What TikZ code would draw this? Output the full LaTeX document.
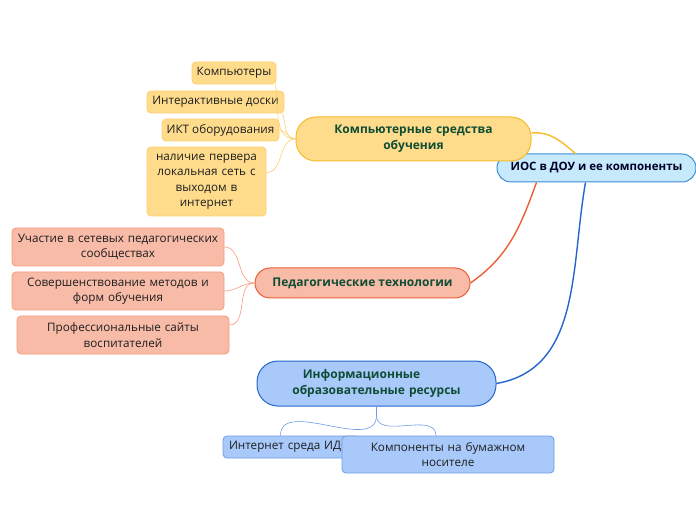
\documentclass[tikz,border=0pt]{standalone}
\usepackage{fontspec}
\setmainfont{Open Sans}
\usepackage{tikz}

\definecolor{inktext}{HTML}{0E4D34}
\definecolor{leaftext}{HTML}{1E1E1E}
\definecolor{rootfill}{HTML}{C6E9FB}
\definecolor{rootdraw}{HTML}{3B8ED3}
\definecolor{compfill}{HTML}{FEDC8C}
\definecolor{compdraw}{HTML}{F6BC2A}
\definecolor{compleaf}{HTML}{FCD06F}
\definecolor{pedfill}{HTML}{F8BBA8}
\definecolor{peddraw}{HTML}{EC5F34}
\definecolor{pedleaf}{HTML}{F59C7C}
\definecolor{infofill}{HTML}{A8C9F9}
\definecolor{infodraw}{HTML}{2566CC}
\definecolor{infoleaf}{HTML}{6E9CE6}

\begin{document}
\begin{tikzpicture}
      [x=1pt,y=1pt,font=\fontsize{11.7}{15.5}\selectfont,
       main node/.style={draw,line width=1pt,align=center,inner sep=0pt,text=inktext,font=\fontsize{12}{16}\selectfont\bfseries},
       leaf node/.style={draw,line width=0.8pt,rounded corners=4pt,align=center,inner sep=0pt,text=leaftext},
       comp leaf/.style={leaf node,fill=compfill,draw=compleaf},
       ped leaf/.style={leaf node,fill=pedfill,draw=pedleaf},
       info leaf/.style={leaf node,fill=infofill,draw=infoleaf}]
        \useasboundingbox (0,0) rectangle (696,520);

        % main topics
        \node[main node,fill=rootfill,draw=rootdraw,rounded corners=14pt,minimum width=199pt,minimum height=28pt,text=black!85!blue,font=\fontsize{11.5}{15}\selectfont\bfseries] (root) at (596.5,352) {ИОС в ДОУ и ее компоненты};
        \node[main node,fill=compfill,draw=compdraw,rounded corners=20pt,minimum width=235pt,minimum height=44pt,text width=220pt] (comp) at (413.5,381) {Компьютерные средства\\обучения};
        \node[main node,fill=pedfill,draw=peddraw,rounded corners=15pt,minimum width=215pt,minimum height=30pt] (ped) at (362.5,237) {Педагогические технологии};
        \node[main node,fill=infofill,draw=infodraw,rounded corners=21pt,minimum width=239pt,minimum height=45pt,text width=225pt] (info) at (376.5,136.5) {Информационные\rule{30pt}{0pt}\\образовательные ресурсы};

        % leaves
        \node[comp leaf,minimum width=84pt,minimum height=22pt] (pc) at (234,447) {Компьютеры};
        \node[comp leaf,minimum width=137pt,minimum height=22pt] (board) at (215.5,418) {Интерактивные доски};
        \node[comp leaf,minimum width=117pt,minimum height=22pt] (ikt) at (220.5,390) {ИКТ оборудования};
        \node[comp leaf,minimum width=119pt,minimum height=69pt,text width=110pt] (server) at (206.5,338.5) {наличие первера\\локальная сеть с\\выходом в\\интернет};

        \node[ped leaf,minimum width=212pt,minimum height=38pt,text width=205pt] (net) at (118,273) {Участие в сетевых педагогических\\сообществах};
        \node[ped leaf,minimum width=212pt,minimum height=38pt,text width=205pt] (method) at (118,229) {Совершенствование методов и\\форм обучения};
        \node[ped leaf,minimum width=212pt,minimum height=38pt,text width=205pt] (sites) at (123,185) {Профессиональные сайты\\воспитателей};

        \node[info leaf,minimum width=137pt,minimum height=22pt,text width=125pt,align=left] (inet) at (291.5,73) {\mbox{Интернет среда ИДОУ}};
        \node[info leaf,minimum width=212pt,minimum height=37pt,text width=205pt] (paper) at (448,65.5) {Компоненты на бумажном\\носителе};

        % connectors
        \draw[compdraw,line width=1.4pt] ([yshift=6pt]comp.east) to[out=5,in=140] ([xshift=-21pt]root.north);
        \draw[peddraw,line width=1.4pt] ([xshift=-60pt]root.south) to[out=-110,in=35] (ped.east);
        \draw[infodraw,line width=1.4pt] ([xshift=-11pt]root.south) to[out=-100,in=10] (info.east);

        \draw[compleaf,line width=0.6pt] ([xshift=-1pt]pc.south east) to[out=-80,in=180] (comp.west);
        \draw[compleaf,line width=0.6pt] ([xshift=-2pt]board.south east) to[out=-70,in=180] (comp.west);
        \draw[compleaf,line width=0.6pt] (ikt.east) to[out=0,in=180] (comp.west);
        \draw[compleaf,line width=0.6pt] ([yshift=9pt]server.east) to[out=0,in=180] (comp.west);

        \draw[pedleaf,line width=0.6pt] (net.east) to[out=0,in=180] (ped.west);
        \draw[pedleaf,line width=0.6pt] (method.east) to[out=0,in=180] (ped.west);
        \draw[pedleaf,line width=0.6pt] ([yshift=10pt]sites.east) to[out=0,in=180] (ped.west);

        \draw[infoleaf,line width=0.6pt] (info.south) -- ++(0,-9) coordinate (hub);
        \draw[infoleaf,line width=0.6pt] (hub) to[out=-90,in=90] ([xshift=-11pt]inet.north);
        \draw[infoleaf,line width=0.6pt] (hub) to[out=-90,in=90] ([xshift=-12pt]paper.north);

      \end{tikzpicture}
\end{document}
